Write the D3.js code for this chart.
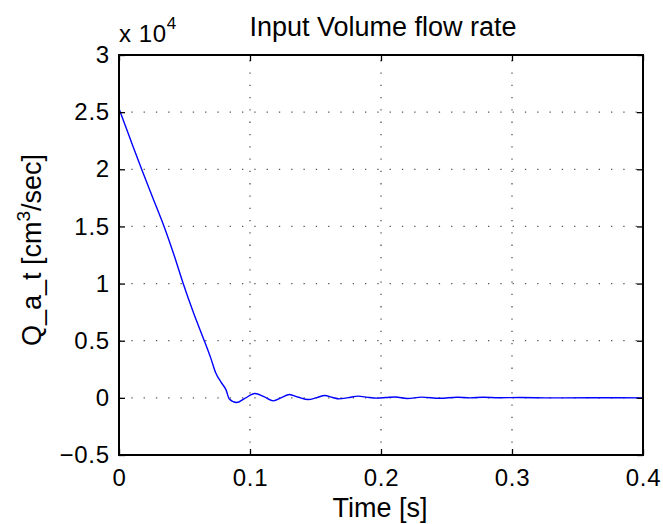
<!DOCTYPE html>
<html>
<head>
<meta charset="utf-8">
<script src="https://cdn.jsdelivr.net/npm/d3@7"></script>
<style>
  body { margin: 0; background: #fff; }
  svg { display: block; }
</style>
</head>
<body>
<script>
// time [s] and flow rate [cm^3/sec]
const time = [0, 0.0086, 0.0173, 0.026, 0.0344, 0.042, 0.049, 0.057, 0.0651, 0.0700, 0.0738, 0.0780, 0.0817, 0.0842,
  0.0898, 0.096, 0.1038, 0.111, 0.1178, 0.124, 0.130, 0.137, 0.1445, 0.151, 0.157, 0.163, 0.168, 0.175, 0.1827,
  0.190, 0.197, 0.204, 0.211, 0.220, 0.231, 0.245, 0.258, 0.268, 0.278, 0.290, 0.306, 0.330, 0.360, 0.400];
const flow = [25300, 22650, 20000, 17450, 15000, 12500, 10000, 7400, 5000, 3500, 2200, 1350, 700, -100,
  -410, -50, 380, 80, -260, 20, 290, 50, -150, 20, 200, 30, -90, 20, 150,
  40, -20, 30, 80, -60, 60, -40, 50, 0, 50, 10, 30, 0, 5, 0];

const xTicks = [0, 0.1, 0.2, 0.3, 0.4];
const xTickLabels = ["0", "0.1", "0.2", "0.3", "0.4"];
const yTicks = [-5000, 0, 5000, 10000, 15000, 20000, 25000, 30000];
const yTickLabels = ["\u22120.5", "0", "0.5", "1", "1.5", "2", "2.5", "3"];

const width = 663, height = 524;
const mLeft = 119, mRight = 643, mTop = 55, mBottom = 455;

const x = d3.scaleLinear().domain([0, 0.4]).range([mLeft, mRight]);
const y = d3.scaleLinear().domain([-5000, 30000]).range([mBottom, mTop]);

const svg = d3.select("body").append("svg")
  .attr("width", width)
  .attr("height", height)
  .attr("font-family", "'Liberation Sans', Arial, Helvetica, sans-serif");

svg.append("rect").attr("width", width).attr("height", height).attr("fill", "#fff");

// dotted grid
const grid = svg.append("g")
  .attr("stroke", "#555")
  .attr("stroke-width", 1.3)
  .attr("stroke-dasharray", "1.3,11");
grid.selectAll("line.gx").data(xTicks.slice(1, -1)).enter().append("line")
  .attr("x1", d => x(d)).attr("x2", d => x(d))
  .attr("y1", mBottom).attr("y2", mTop);
grid.selectAll("line.gy").data(yTicks.slice(1, -1)).enter().append("line")
  .attr("y1", d => y(d)).attr("y2", d => y(d))
  .attr("x1", mLeft).attr("x2", mRight);

// the curve
const line = d3.line()
  .x((d, i) => x(time[i]))
  .y(d => y(d))
  .curve(d3.curveMonotoneX);

svg.append("path")
  .datum(flow)
  .attr("fill", "none")
  .attr("stroke", "#0000ff")
  .attr("stroke-width", 1.4)
  .attr("d", line);

// axes, ticks pointing inwards on all four sides
const fmtX = (d, i) => xTickLabels[i];
const fmtY = (d, i) => yTickLabels[i];

svg.append("g").attr("transform", `translate(0,${mBottom})`)
  .call(d3.axisBottom(x).tickValues(xTicks).tickFormat(fmtX).tickSize(-6).tickPadding(14));
svg.append("g").attr("transform", `translate(${mLeft},0)`)
  .call(d3.axisLeft(y).tickValues(yTicks).tickFormat(fmtY).tickSize(-6).tickPadding(9));
svg.append("g").attr("transform", `translate(0,${mTop})`)
  .call(d3.axisTop(x).tickValues(xTicks).tickFormat("").tickSize(-6));
svg.append("g").attr("transform", `translate(${mRight},0)`)
  .call(d3.axisRight(y).tickValues(yTicks).tickFormat("").tickSize(-6));

svg.selectAll(".domain").remove();
svg.selectAll(".tick line").attr("stroke", "#000").attr("stroke-width", 1.3);
svg.selectAll(".tick text")
  .attr("font-family", "'Liberation Sans', Arial, Helvetica, sans-serif")
  .attr("font-size", 24)
  .attr("letter-spacing", 0.8)
  .attr("fill", "#000");

// axes box
svg.append("rect")
  .attr("x", mLeft).attr("y", mTop)
  .attr("width", mRight - mLeft).attr("height", mBottom - mTop)
  .attr("fill", "none")
  .attr("stroke", "#000")
  .attr("stroke-width", 2);

// exponent
const expo = svg.append("text")
  .attr("x", 119).attr("y", 42)
  .attr("font-size", 24)
  .attr("letter-spacing", 0.6)
  .attr("fill", "#000");
expo.append("tspan").text("x 10");
expo.append("tspan").attr("dy", -13).attr("font-size", 17).text("4");

// title
svg.append("text")
  .attr("x", 383).attr("y", 36)
  .attr("text-anchor", "middle")
  .attr("font-size", 27)
  .attr("fill", "#000")
  .text("Input Volume flow rate");

// x label
svg.append("text")
  .attr("x", 380).attr("y", 517)
  .attr("text-anchor", "middle")
  .attr("font-size", 27)
  .attr("fill", "#000")
  .text("Time [s]");

// y label
const yl = svg.append("text")
  .attr("transform", "translate(41,250) rotate(-90)")
  .attr("text-anchor", "middle")
  .attr("font-size", 27)
  .attr("fill", "#000");
yl.append("tspan").text("Q_a_t [cm");
yl.append("tspan").attr("dy", -11).attr("font-size", 19).text("3");
yl.append("tspan").attr("dy", 11).text("/sec]");
</script>
</body>
</html>
